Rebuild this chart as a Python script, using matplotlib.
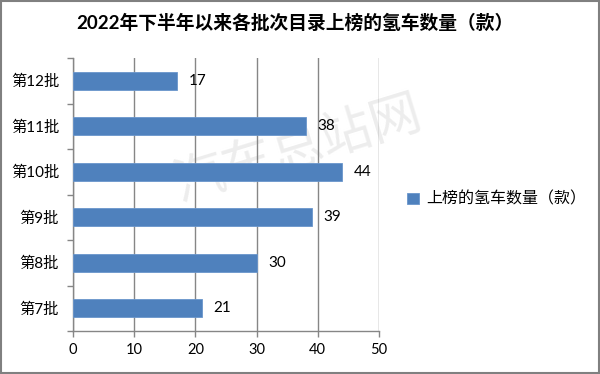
import matplotlib
matplotlib.use("Agg")
import matplotlib.pyplot as plt
from matplotlib.patches import Rectangle

plt.rcParams['font.family'] = ['Lato', 'Noto Sans CJK SC', 'DejaVu Sans']

categories = ["第7批", "第8批", "第9批", "第10批", "第11批", "第12批"]
values = [21, 30, 39, 44, 38, 17]
series_name = "上榜的氢车数量（款）"
title = "2022年下半年以来各批次目录上榜的氢车数量（款）"
x_ticks = [0, 10, 20, 30, 40, 50]

bar_color = "#4F81BD"
grid_color = "#868686"

fig = plt.figure(figsize=(6.0, 3.74), dpi=100)
ax = fig.add_axes([73 / 600, 43 / 374, 306 / 600, 273 / 374])
ax.set_facecolor("none")

y = list(range(len(categories)))
bars = ax.barh(y, values, height=0.4, color=bar_color, edgecolor="#6A96CC",
               linewidth=0.6, label=series_name, zorder=3)

for yi, v in zip(y, values):
    ax.text(v + 1.9, yi, str(v), va="center", ha="left", fontsize=11,
            color="#000000", zorder=4)

ax.set_xlim(0, 50)
ax.set_ylim(-0.5, len(categories) - 0.5)
ax.set_xticks(x_ticks)
ax.set_xticklabels([str(t) for t in x_ticks], fontsize=10.5)
ax.set_yticks(y)
ax.set_yticklabels(categories, fontsize=11)
ax.set_yticks([i - 0.5 for i in range(len(categories) + 1)], minor=True)

ax.tick_params(axis="y", which="major", length=0, pad=10)
ax.tick_params(axis="y", which="minor", length=4, color=grid_color, width=1, direction="out")
ax.tick_params(axis="x", which="major", length=4, color=grid_color, width=1, pad=5)

ax.grid(axis="x", color=grid_color, linewidth=1, zorder=0)
for side in ("top", "right"):
    ax.spines[side].set_visible(False)
for side in ("left", "bottom"):
    ax.spines[side].set_color(grid_color)
    ax.spines[side].set_linewidth(1)

fig.text(0.492, 0.94, title, ha="center", va="center", fontsize=13.5,
         fontweight="bold", color="#000000")

leg = fig.legend(handles=[bars], labels=[series_name], loc="center left",
                 bbox_to_anchor=(0.655, 0.467), frameon=False, fontsize=11.5,
                 handlelength=0.7, handleheight=0.7, handletextpad=0.5)

# watermark behind the plot
fig.text(0.495, 0.60, "汽车总站网", ha="center", va="center", fontsize=37,
         color="#EDEDED", rotation=17, zorder=-1)

# figure border
fig.patches.append(Rectangle((0.0015, 0.0025), 0.997, 0.995, transform=fig.transFigure,
                             fill=False, edgecolor="#808080", linewidth=1.5))

fig.savefig("out.png", dpi=100, facecolor="white")
